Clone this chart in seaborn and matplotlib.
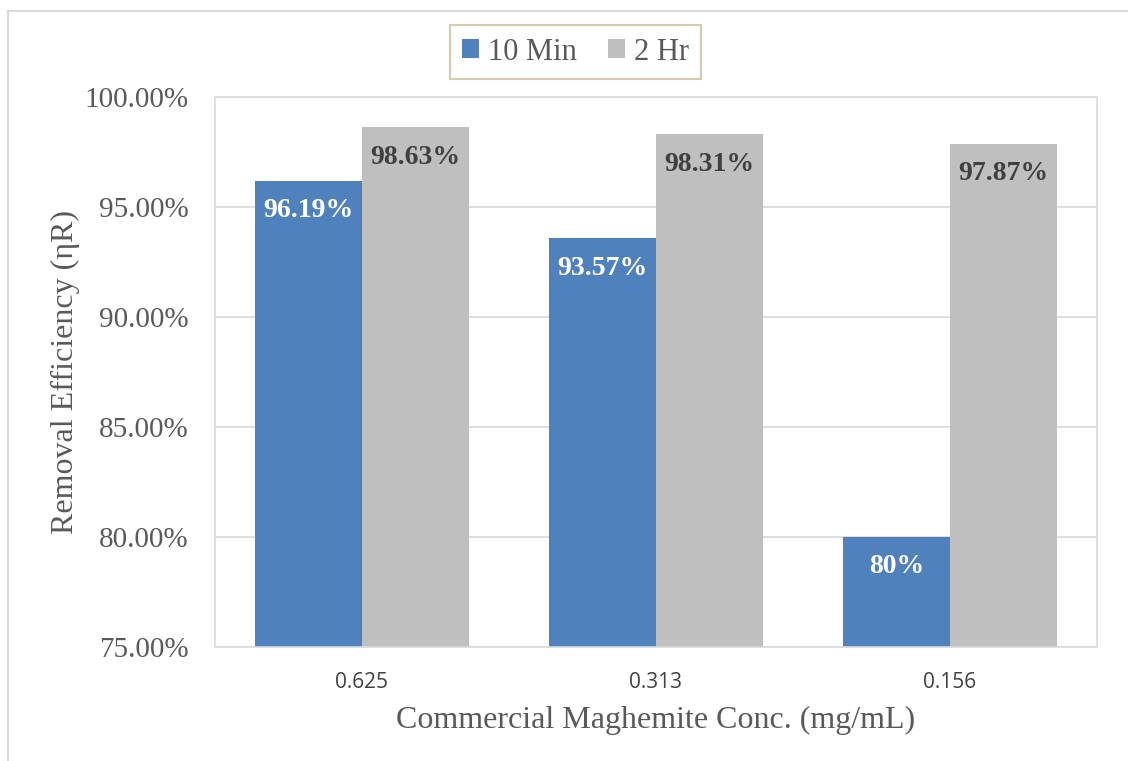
import matplotlib
matplotlib.use("Agg")
import matplotlib.pyplot as plt
import seaborn as sns
import pandas as pd
from matplotlib.patches import Rectangle, Patch
from matplotlib.ticker import FuncFormatter

categories = ["0.625", "0.313", "0.156"]
series_names = ["10 Min", "2 Hr"]
values_10min = [96.19, 93.57, 80.0]
values_2hr = [98.63, 98.31, 97.87]
labels_10min = ["96.19%", "93.57%", "80%"]
labels_2hr = ["98.63%", "98.31%", "97.87%"]

df = pd.DataFrame({
    "conc": categories * 2,
    "series": [series_names[0]] * 3 + [series_names[1]] * 3,
    "value": values_10min + values_2hr,
})

sns.set_theme(style="white")
plt.rcParams["font.family"] = ["Liberation Serif", "DejaVu Serif"]

W, H = 1128, 761
fig = plt.figure(figsize=(W / 100, H / 100), dpi=100)
ax = fig.add_axes([215 / W, 1 - 647 / H, (1097 - 215) / W, (647 - 97) / H])

palette = {"10 Min": "#4F81BD", "2 Hr": "#BFBFBF"}
sns.barplot(data=df, x="conc", y="value", hue="series", order=categories,
            hue_order=series_names, palette=palette, width=0.73,
            saturation=1, ax=ax, legend=False, linewidth=0)

ax.set_ylim(75, 100)
ax.set_yticks([75, 80, 85, 90, 95, 100])
ax.yaxis.set_major_formatter(FuncFormatter(lambda v, p: f"{v:.2f}%"))
ax.grid(axis="y", color="#D9D9D9", linewidth=1.2)
ax.set_axisbelow(True)
for s in ax.spines.values():
    s.set_visible(True)
    s.set_color("#D9D9D9")
    s.set_linewidth(1.2)
ax.tick_params(axis="y", labelsize=21, labelcolor="#595959", length=0, pad=19)
ax.tick_params(axis="x", labelsize=15, labelcolor="#404040", length=0, pad=18)
for t in ax.get_xticklabels():
    t.set_fontfamily("Open Sans")

ax.set_xlabel("Commercial Maghemite Conc. (mg/mL)", fontsize=23, color="#595959", labelpad=9)
ax.set_ylabel("Removal Efficiency (ηR)", fontsize=23, color="#595959", labelpad=3)

# data labels
for cont, labs, col in zip(ax.containers, [labels_10min, labels_2hr], ["white", "#404040"]):
    for bar, lab in zip(cont, labs):
        x = bar.get_x() + bar.get_width() / 2
        y = bar.get_height()
        ax.annotate(lab, (x, y), xytext=(0, -21.5), textcoords="offset points",
                    ha="center", va="center", fontsize=20, fontweight="bold", color=col)

# legend
handles = [Patch(facecolor=palette[n], edgecolor="none") for n in series_names]
leg = fig.legend(handles, series_names, loc="center", bbox_to_anchor=(575.5 / W, 1 - 52 / H),
                 ncol=2, frameon=True, fancybox=False, fontsize=22,
                 handlelength=0.55, handleheight=0.55, handletextpad=0.3, columnspacing=1.0,
                 borderpad=0.4)
leg.get_frame().set_edgecolor("#C9BF98")
leg.get_frame().set_linewidth(1.5)
for t in leg.get_texts():
    t.set_color("#595959")

# outer chart frame
fig.patches.append(Rectangle((8 / W, -0.05), 1.2, 1 - 11 / H + 0.05, transform=fig.transFigure,
                             fill=False, edgecolor="#D9D9D9", linewidth=1.5, zorder=-1))

fig.savefig("out.png", dpi=100)
